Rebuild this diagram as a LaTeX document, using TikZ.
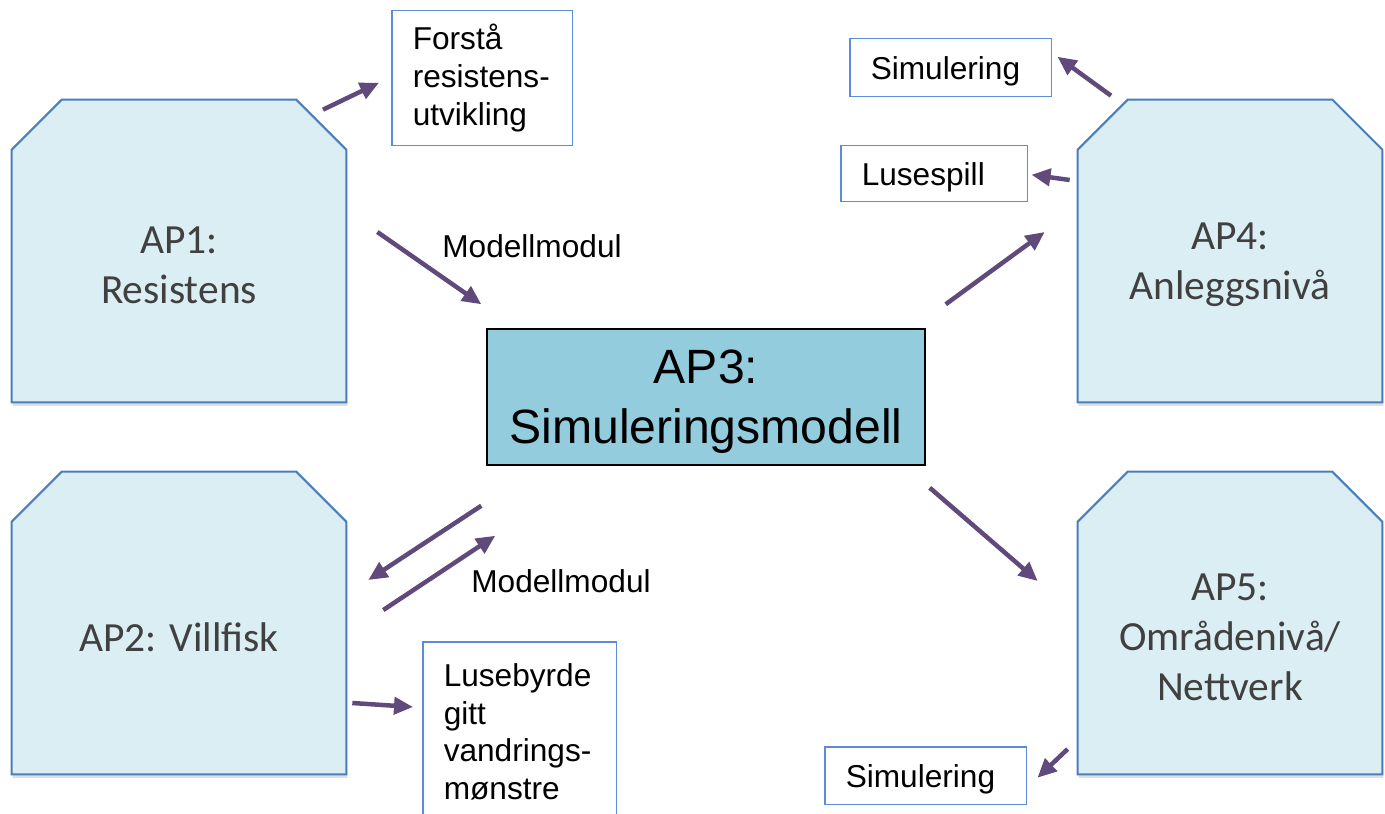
\documentclass[tikz,border=0pt]{standalone}
\usepackage{fontspec}
\setmainfont{Liberation Sans}
\newfontfamily\apfont{Carlito}
\usetikzlibrary{arrows.meta,calc,shadows,backgrounds}

\definecolor{apfill}{HTML}{DBEEF4}
\definecolor{apline}{HTML}{4A7EBB}
\definecolor{aptext}{HTML}{404040}
\definecolor{simfill}{HTML}{93CDDD}
\definecolor{boxline}{HTML}{5B8ED6}
\definecolor{flowpurple}{HTML}{604A7B}

\tikzset{
  apbox/.style={rectangle, minimum height=6.04cm, inner sep=0pt},
  apedge/.style={draw=apline, fill=apfill, line width=0.04cm,
    drop shadow={shadow xshift=0.02cm, shadow yshift=-0.07cm, opacity=0.25}},
  aplabel/.style={font=\apfont\fontsize{23.6}{28.5}\selectfont, text=aptext, align=center, yshift=-0.28cm},
  simbox/.style={rectangle, draw=black, fill=simfill, line width=0.03cm, minimum width=8.76cm,
    minimum height=2.72cm, align=center, text depth=0pt, font=\fontsize{27.4}{34}\selectfont},
  infobox/.style={draw=boxline, line width=0.03cm, anchor=north west, align=left,
    inner xsep=0.42cm, font=\fontsize{18}{21.5}\selectfont},
  oneline/.style={infobox, text depth=0pt, minimum height=1.16cm},
  note/.style={font=\fontsize{18}{21.5}\selectfont},
  flow/.style={draw=flowpurple, line width=0.09cm, -{Triangle[length=0.38cm,width=0.34cm]}},
}

\begin{document}
\begin{tikzpicture}[x=0.02cm, y=-0.02cm]
\useasboundingbox (0,0) rectangle (1385,814);

% Work packages
\node (ap1) [apbox, minimum width=6.68cm, label={[aplabel]center:{AP1:\\Resistens}}] at (179,251) {};
\node (ap2) [apbox, minimum width=6.68cm, label={[aplabel]center:{AP2: Villfisk}}] at (179,623) {};
\node (ap4) [apbox, minimum width=6.08cm, label={[aplabel]center:{AP4:\\Anleggsnivå}}] at (1230,251) {};
\node (ap5) [apbox, minimum width=6.08cm, label={[aplabel]center:{AP5:\\Områdenivå/\\Nettverk}}] at (1230,623) {};
\node (ap3) [simbox] at (706,397) {AP3:\\Simuleringsmodell};

% Chamfered outlines behind the work package labels
\begin{scope}[on background layer]
  \foreach \ap in {ap1,ap2,ap4,ap5}
    \draw[apedge] (\ap.south west) -- ($(\ap.north west)+(0,50)$) -- ($(\ap.north west)+(50,0)$)
      -- ($(\ap.north east)+(-50,0)$) -- ($(\ap.north east)+(0,50)$) -- (\ap.south east) -- cycle;
\end{scope}

% Result boxes
\node (forsta) [infobox, text width=2.78cm, minimum height=2.7cm] at (391,10) {Forstå\\resistens-\\utvikling};
\node (sim4) [oneline, text width=3.2cm] at (849,38) {Simulering};
\node (lusespill) [oneline, text width=2.9cm, minimum height=1.12cm] at (840,145) {Lusespill};
\node (lusebyrde) [infobox, text width=3.04cm, inner ysep=0.24cm, minimum height=3.6cm] at (422,641) {Lusebyrde\\gitt\\vandrings-\\mønstre};
\node (sim5) [oneline, text width=3.2cm] at (824,746) {Simulering};

% Arrow labels
\node (mod1) [note] at (532,246) {Modellmodul};
\node (mod2) [note] at (561,581) {Modellmodul};

% Arrows
\draw[flow] ($(ap1.north)+(144,10)$) -- ($(forsta.west)+(-12,4.5)$);
\draw[flow] ($(ap1.east)+(31,-19)$) -- ($(ap3.north west)+(-5,-24)$);
\draw[flow] ($(ap3.south west)+(-5,40)$) -- ($(ap2.east)+(22,-43)$);
\draw[flow] ($(ap2.east)+(37,-13)$) -- ($(ap3.south west)+(9,70)$);
\draw[flow] ($(ap2.east)+(6,80)$) -- ($(lusebyrde.north west)+(-9,66)$);
\draw[flow] ($(ap3.north east)+(20,-24)$) -- ($(ap4.west)+(-33,-19)$);
\draw[flow] ($(ap4.north)+(-119,-4)$) -- ($(sim4.east)+(5,-11)$);
\draw[flow] ($(ap4.west)+(-8,-71)$) -- ($(lusespill.east)+(3,1)$);
\draw[flow] ($(ap3.south east)+(4,22)$) -- ($(ap5.west)+(-40,-42)$);
\draw[flow] ($(ap5.west)+(-10,126)$) -- ($(sim5.east)+(10,2)$);

\end{tikzpicture}
\end{document}
